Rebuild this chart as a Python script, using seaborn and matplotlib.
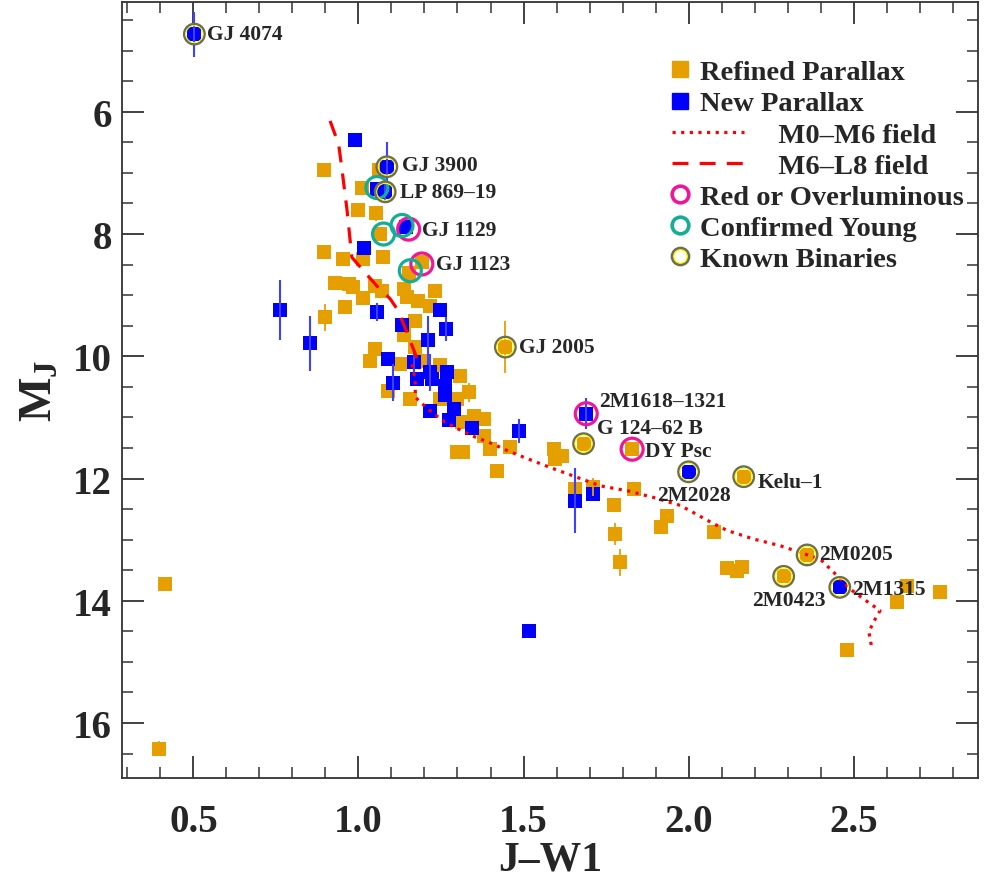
import matplotlib
matplotlib.use("Agg")
import matplotlib.pyplot as plt
import seaborn as sns
from matplotlib.lines import Line2D
from matplotlib.legend_handler import HandlerLine2D, HandlerTuple
from matplotlib.ticker import MultipleLocator

# refined parallax (orange squares)
ref_x = [0.397, 0.415, 0.897, 1.011, 1.000, 1.053, 1.066, 0.897, 0.952, 1.015,
         1.074, 1.192, 1.152, 0.930, 0.970, 0.985, 1.015, 0.960, 1.051, 1.071,
         1.137, 1.147, 1.181, 1.218, 1.233, 0.900, 1.172, 1.137, 1.172, 1.051,
         1.036, 1.127, 1.192, 1.248, 1.308, 1.091, 1.157, 1.334, 1.248, 1.298,
         1.349, 1.379, 1.314, 1.379, 1.399, 1.298, 1.318, 1.460, 1.420, 1.445,
         1.682, 1.591, 1.617, 1.596, 1.829, 2.167, 1.655, 1.709, 1.834, 1.773,
         1.778, 1.791, 1.935, 1.915, 2.076, 2.117, 2.147, 2.162, 2.359, 2.288,
         2.632, 2.662, 2.761, 2.480, 1.061]
ref_y = [16.42, 13.73, 6.95, 7.24, 7.60, 7.66, 8.00, 8.30, 8.41, 8.41,
         8.38, 8.46, 8.63, 8.80, 8.81, 8.87, 9.04, 9.20, 8.85, 8.93,
         8.90, 9.03, 9.10, 9.17, 8.93, 9.36, 9.43, 9.66, 9.85, 9.88,
         10.07, 10.13, 10.07, 10.15, 10.32, 10.56, 10.70, 10.59, 10.70, 10.70,
         10.97, 11.03, 11.08, 11.30, 11.52, 11.57, 11.57, 11.49, 11.87, 9.85,
         11.43, 11.52, 11.63, 11.68, 11.52, 11.97, 12.17, 12.14, 12.17, 12.43,
         12.91, 13.37, 12.61, 12.80, 12.88, 13.47, 13.51, 13.45, 13.25, 13.60,
         14.02, 13.75, 13.86, 14.81, 6.96]
ref_err = [0.12, 0, 0.1, 0, 0, 0.12, 0, 0, 0, 0,
           0, 0, 0, 0, 0, 0, 0, 0, 0, 0,
           0, 0, 0, 0, 0, 0.22, 0, 0, 0, 0,
           0, 0, 0, 0, 0, 0, 0, 0.15, 0, 0,
           0, 0, 0, 0, 0, 0, 0, 0, 0, 0.42,
           0, 0, 0, 0, 0, 0, 0, 0.15, 0, 0,
           0.18, 0.22, 0, 0, 0, 0, 0, 0, 0.05, 0.08,
           0, 0, 0, 0, 0]

# new parallax (blue squares)
new_x = [0.503, 0.991, 1.086, 1.056, 1.081, 1.145, 1.016, 1.056, 1.246, 0.763,
         0.854, 1.132, 1.265, 1.212, 1.091, 1.167, 1.218, 1.268, 1.106, 1.177,
         1.223, 1.263, 1.261, 1.288, 1.216, 1.275, 1.344, 1.485, 1.690, 1.655,
         1.709, 2.000, 2.458, 1.518]
new_y = [4.73, 6.47, 6.90, 7.26, 7.31, 7.89, 8.23, 9.28, 9.25, 9.24,
         9.79, 9.49, 9.55, 9.74, 10.04, 10.10, 10.26, 10.26, 10.43, 10.37,
         10.37, 10.48, 10.64, 10.86, 10.89, 11.05, 11.18, 11.22, 10.94, 12.36,
         12.25, 11.89, 13.78, 14.50]
new_err = [0.37, 0, 0.4, 0, 0.18, 0, 0, 0.15, 0, 0.49,
           0.45, 0, 0.2, 0.4, 0, 0.2, 0.3, 0, 0.3, 0,
           0, 0, 0, 0, 0, 0, 0, 0.2, 0.25, 0.53,
           0, 0, 0, 0]

# field sequences
m0m6_x = [1.163, 1.172, 1.172, 1.212, 1.257, 1.302, 1.353, 1.405, 1.454, 1.50,
          1.581, 1.662, 1.733, 1.814, 1.894, 1.975, 2.076, 2.117, 2.197, 2.278,
          2.399, 2.435, 2.49, 2.53, 2.58, 2.56, 2.546, 2.556]
m0m6_y = [10.13, 10.40, 10.67, 10.87, 11.06, 11.19, 11.32, 11.43, 11.55, 11.65,
          11.82, 11.98, 12.12, 12.20, 12.31, 12.44, 12.74, 12.85, 12.99, 13.10,
          13.32, 13.51, 13.81, 13.97, 14.16, 14.35, 14.51, 14.80]
m6l8_x = [0.914, 0.94, 0.95, 0.965, 0.98, 1.01, 1.056, 1.096, 1.12, 1.147, 1.172, 1.187]
m6l8_y = [6.15, 6.53, 6.94, 7.59, 8.38, 8.57, 8.85, 9.06, 9.25, 9.61, 9.96, 10.21]

# flagged objects
red_x = [1.152, 1.192, 1.690, 1.829]
red_y = [7.92, 8.49, 10.94, 11.52]
young_x = [1.056, 1.076, 1.132, 1.157]
young_y = [7.24, 8.00, 7.86, 8.60]
bin_x = [0.503, 1.086, 1.081, 1.445, 1.682, 2.000, 2.167, 2.359, 2.288, 2.458]
bin_y = [4.73, 6.90, 7.31, 9.85, 11.43, 11.89, 11.97, 13.25, 13.60, 13.78]

# named objects
names = ["GJ 4074", "GJ 3900", "LP 869\u201319", "GJ 1129", "GJ 1123", "GJ 2005",
         "2M1618\u20131321", "G 124\u201362 B", "DY Psc", "2M2028", "Kelu\u20131",
         "2M0205", "2M0423", "2M1315"]
name_x = [0.503, 1.086, 1.081, 1.145, 1.192, 1.445, 1.690, 1.682, 1.829, 2.000,
          2.167, 2.359, 2.288, 2.458]
name_y = [4.73, 6.90, 7.31, 7.89, 8.46, 9.85, 10.94, 11.43, 11.52, 11.89,
          11.97, 13.25, 13.60, 13.78]
# label offsets (points) and horizontal alignment
name_off = [(9, 0), (11, 1), (11, 0), (11, -2), (10, -1), (10, 0), (9, 9),
            (10, 11), (9, -1), (4, -17), (10, -4), (9, 1), (4, -17), (9, -1)]
name_ha = ["left"] * 9 + ["center", "left", "left", "center", "left"]

ORANGE = "#E69F00"
BLUE = "#0000FF"
MAGENTA = "#F0169C"
TEAL = "#13AE95"
GRAY = "#6E6E58"
YELLOW = "#FFFF00"

sns.set_style("ticks")
plt.rcParams["font.family"] = ["Liberation Serif", "DejaVu Serif"]
plt.rcParams["font.weight"] = "bold"
plt.rcParams["mathtext.fontset"] = "custom"
plt.rcParams["mathtext.rm"] = "Liberation Serif:bold"
plt.rcParams["mathtext.it"] = "Liberation Serif:bold"

fig = plt.figure(figsize=(9.85, 8.79), dpi=100)
ax = fig.add_axes([0.1236, 0.1137, 0.8694, 0.8825])

ax.errorbar(ref_x, ref_y, yerr=ref_err, fmt="none", ecolor=ORANGE, elinewidth=1.3)
sns.scatterplot(x=ref_x, y=ref_y, marker="s", s=92, color=ORANGE, linewidth=0, ax=ax)
ax.errorbar(new_x, new_y, yerr=new_err, fmt="none", ecolor="#4040FF", elinewidth=1.5)
sns.scatterplot(x=new_x, y=new_y, marker="s", s=92, color=BLUE, linewidth=0, ax=ax)

sns.lineplot(x=m0m6_x, y=m0m6_y, sort=False, color="red", lw=2.3, ax=ax,
             dashes=False, estimator=None)
ax.lines[-1].set_dashes((1, 1.7))
sns.lineplot(x=m6l8_x, y=m6l8_y, sort=False, color="red", lw=2.3, ax=ax,
             estimator=None)
ax.lines[-1].set_dashes((5, 3.5))

ax.scatter(red_x, red_y, s=250, facecolors="none", edgecolors=MAGENTA, linewidths=2.3, zorder=5)
ax.scatter(young_x, young_y, s=250, facecolors="none", edgecolors=TEAL, linewidths=2.3, zorder=5)
ax.scatter(bin_x, bin_y, s=215, facecolors="none", edgecolors=GRAY, linewidths=1.8, zorder=6)
ax.scatter(bin_x, bin_y, s=150, facecolors="none", edgecolors=YELLOW, linewidths=0.8, zorder=6)

for nm, x, y, off, ha in zip(names, name_x, name_y, name_off, name_ha):
    ax.annotate(nm, (x, y), xytext=off, textcoords="offset points", ha=ha,
                va="center", fontsize=15.5, fontweight="bold", zorder=7)

ax.set_xlim(0.283, 2.877)
ax.set_ylim(16.9, 4.21)
ax.xaxis.set_major_locator(MultipleLocator(0.5))
ax.xaxis.set_minor_locator(MultipleLocator(0.1))
ax.yaxis.set_major_locator(MultipleLocator(2))
ax.yaxis.set_minor_locator(MultipleLocator(0.5))
ax.tick_params(which="both", direction="in", top=True, right=True, color="#333333")
ax.tick_params(which="major", length=16, width=1.3, labelsize=28, pad=18)
ax.tick_params(which="minor", length=8, width=1.1)
ax.tick_params(axis="y", pad=7)
for lab in ax.get_xticklabels() + ax.get_yticklabels():
    lab.set_fontweight("bold")
for sp in ax.spines.values():
    sp.set_color("#333333")
    sp.set_linewidth(1.3)

ax.set_xlabel("J\u2013W1", fontsize=30, fontweight="bold", labelpad=0)
ax.set_ylabel(r"$\mathrm{M_J}$", fontsize=34, labelpad=8)


class LongLine(HandlerLine2D):
    def create_artists(self, legend, orig_handle, xdescent, ydescent, width,
                       height, fontsize, trans):
        return super().create_artists(legend, orig_handle, xdescent, ydescent,
                                      width * 4.6, height, fontsize, trans)


h_ref = Line2D([], [], ls="none", marker="s", ms=11, color=ORANGE)
h_new = Line2D([], [], ls="none", marker="s", ms=11, color=BLUE)
h_dot = Line2D([], [], color="red", lw=2.3, dashes=(1, 1.7))
h_dash = Line2D([], [], color="red", lw=2.3, dashes=(5, 3.5))
h_red = Line2D([], [], ls="none", marker="o", ms=12, mfc="none", mec=MAGENTA, mew=2.6)
h_young = Line2D([], [], ls="none", marker="o", ms=12, mfc="none", mec=TEAL, mew=2.6)
h_bin = (Line2D([], [], ls="none", marker="o", ms=12, mfc="none", mec=GRAY, mew=2.2),
         Line2D([], [], ls="none", marker="o", ms=9.5, mfc="none", mec=YELLOW, mew=1.0))
pad = " " * 11
leg = ax.legend([h_ref, h_new, h_dot, h_dash, h_red, h_young, h_bin],
                ["Refined Parallax", "New Parallax", pad + "M0\u2013M6 field",
                 pad + "M6\u2013L8 field", "Red or Overluminous", "Confirmed Young",
                 "Known Binaries"],
                handler_map={h_dot: LongLine(), h_dash: LongLine(),
                             tuple: HandlerTuple(ndivide=1)},
                loc="upper right", bbox_to_anchor=(1.007, 0.952), frameon=False,
                prop={"size": 20.5, "weight": "bold"}, handlelength=0.55,
                handletextpad=0.45, labelspacing=0.18, borderaxespad=0.3)

fig.savefig("out.png", dpi=100)
